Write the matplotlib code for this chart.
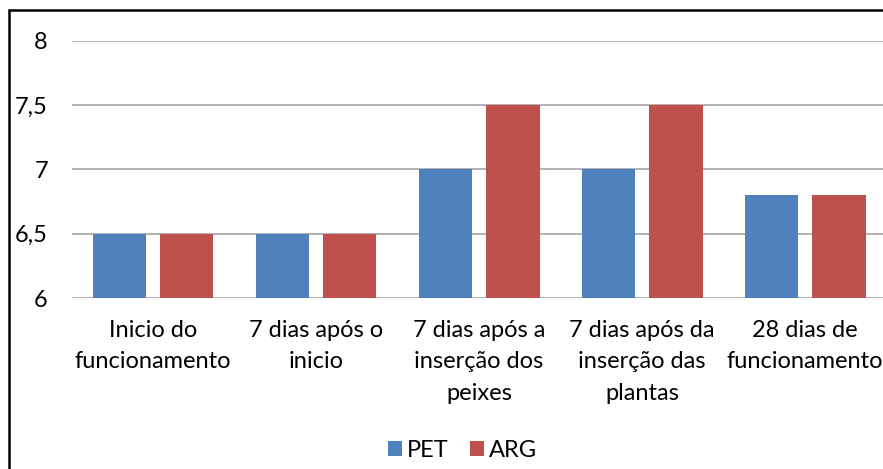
import numpy as np
import matplotlib.pyplot as plt
from matplotlib.patches import Rectangle

categories = ['Inicio do\nfuncionamento', '7 dias após o\ninicio',
              '7 dias após a\ninserção dos\npeixes', '7 dias após da\ninserção das\nplantas',
              '28 dias de\nfuncionamento']
pet = [6.5, 6.5, 7.0, 7.0, 6.8]
arg = [6.5, 6.5, 7.5, 7.5, 6.8]
yticks = [6, 6.5, 7, 7.5, 8]
ytick_labels = ['6', '6,5', '7', '7,5', '8']

plt.rcParams['font.family'] = ['Lato', 'DejaVu Sans']

fig = plt.figure(figsize=(8.83, 4.69), dpi=100)
ax = fig.add_axes([0.081, 0.3646, 0.923, 0.548])

x = np.arange(len(categories))
w = 0.33
ax.bar(x - 0.206, np.array(pet) - 6, w, bottom=6, color='#4F81BD', label='PET', zorder=3)
ax.bar(x + 0.206, np.array(arg) - 6, w, bottom=6, color='#C0504D', label='ARG', zorder=3)

ax.set_xlim(-0.5, len(categories) - 0.5)
ax.set_ylim(6, 8)
ax.set_yticks(yticks)
ax.set_yticklabels(ytick_labels, fontsize=17)
ax.set_xticks(x)
ax.set_xticklabels(categories, fontsize=17, linespacing=1.6)
ax.tick_params(axis='y', length=0, pad=17)
ax.tick_params(axis='x', length=0, pad=16)
ax.yaxis.grid(True, color='#A6A6A6', linewidth=1.2, zorder=0)
for s in ax.spines.values():
    s.set_visible(False)
ax.set_axisbelow(True)

fig.legend(loc='center', bbox_to_anchor=(0.524, 0.04), ncol=2, frameon=False,
           fontsize=17, handlelength=0.6, handleheight=0.6, handletextpad=0.2,
           columnspacing=0.9)

# outer frame of the chart
fig.patches.append(Rectangle((9 / 883, -0.1), 1.2, 1 - 10 / 469 + 0.1,
                             transform=fig.transFigure, fill=False,
                             edgecolor='black', linewidth=1.8))

fig.savefig('out.png', dpi=100)
